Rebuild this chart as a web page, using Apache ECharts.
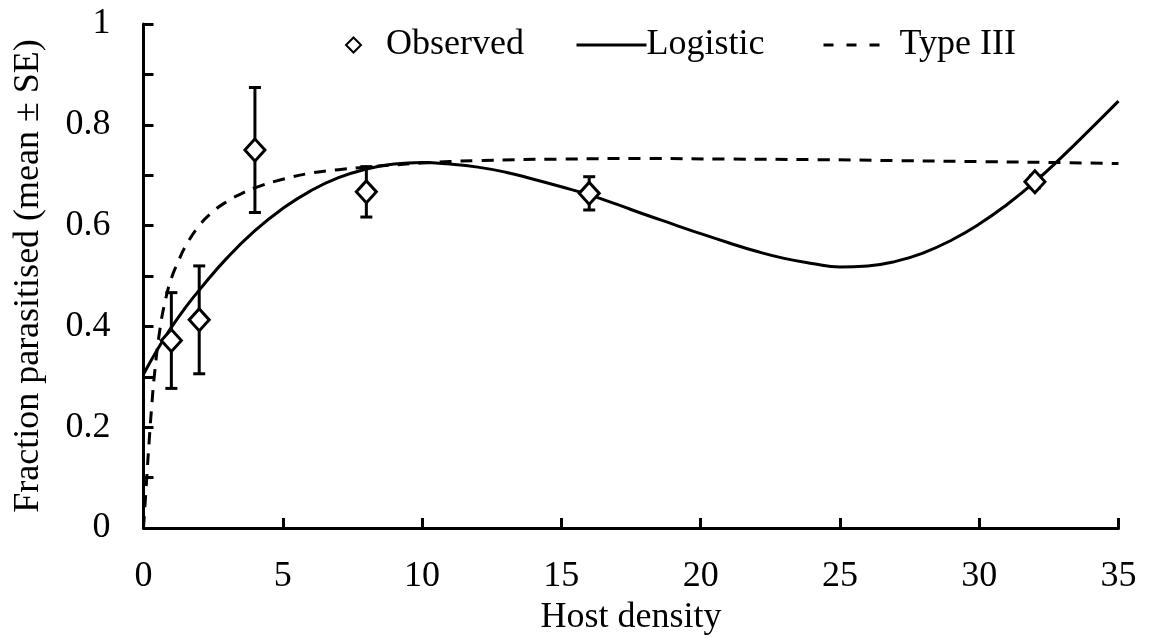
<!DOCTYPE html>
<html>
<head>
<meta charset="utf-8">
<script src="https://cdn.jsdelivr.net/npm/echarts@6/dist/echarts.min.js"></script>
<style>
  html, body { margin: 0; padding: 0; background: #fff; }
  #chart { width: 1155px; height: 644px; }
</style>
</head>
<body>
<div id="chart"></div>
<script>
// Observed parasitism by host density (mean and standard error)
const hostDensity = [1, 2, 4, 8, 16, 32];
const meanParasitised = [0.372, 0.413, 0.750, 0.667, 0.664, 0.687];
const standardError = [0.095, 0.107, 0.124, 0.050, 0.033, 0.012];

// Fitted logistic response curve
const logisticX = [0, 0.5, 1, 1.5, 2, 3, 4, 5, 6, 7, 8, 9, 10, 11, 12, 13, 14, 15, 16, 17, 18,
  19, 20, 21, 22, 23, 24, 25, 26, 27, 28, 29, 30, 31, 32, 33, 34, 35];
const logisticY = [0.305, 0.354, 0.398, 0.437, 0.472, 0.536, 0.590, 0.634, 0.669, 0.695, 0.712,
  0.722, 0.725, 0.722, 0.716, 0.706, 0.692, 0.677, 0.661, 0.642, 0.622, 0.603, 0.584, 0.566,
  0.549, 0.535, 0.525, 0.518, 0.520, 0.529, 0.546, 0.571, 0.603, 0.642, 0.687, 0.738, 0.792, 0.847];

// Fitted type III functional response
const typeIIIX = [0, 0.1, 0.2, 0.3, 0.4, 0.6, 0.8, 1, 1.25, 1.5, 2, 2.5, 3, 3.5, 4, 5, 6, 7, 8,
  10, 12, 15, 18, 21, 24, 27, 30, 33, 35];
const typeIIIY = [0, 0.085, 0.17, 0.245, 0.308, 0.398, 0.455, 0.495, 0.529, 0.558, 0.600, 0.628,
  0.648, 0.663, 0.675, 0.692, 0.704, 0.711, 0.716, 0.724, 0.729, 0.732, 0.733, 0.732, 0.731,
  0.729, 0.727, 0.725, 0.723];

const FONT = 'Liberation Serif';
const INK = '#000';
const FS = 36;

const observed = hostDensity.map((x, i) => [x, meanParasitised[i]]);
const errorBars = hostDensity.map((x, i) => [x, meanParasitised[i] - standardError[i], meanParasitised[i] + standardError[i]]);
const logistic = logisticX.map((x, i) => [x, logisticY[i]]);
const typeIII = typeIIIX.map((x, i) => [x, typeIIIY[i]]);

const chart = echarts.init(document.getElementById('chart'), null, { renderer: 'canvas' });

const legendText = { fontFamily: FONT, fontSize: FS, color: INK };
// line legends show only the stroke, without a marker dot
const hiddenDot = { opacity: 0 };

chart.setOption({
  animation: false,
  backgroundColor: '#fff',
  grid: { left: 143.5, right: 36.5, top: 24, bottom: 116, containLabel: false },
  legend: [
    { data: ['Observed'], left: 340, top: 22, icon: 'diamond', itemWidth: 15, itemHeight: 15,
      itemGap: 0, textStyle: Object.assign({ padding: [0, 0, 0, 20] }, legendText) },
    { data: ['Logistic'], left: 570, top: 22, itemWidth: 70, itemHeight: 14,
      itemStyle: hiddenDot, lineStyle: { width: 3 },
      textStyle: Object.assign({ padding: [0, 0, 0, -5] }, legendText) },
    { data: ['Type III'], left: 817, top: 22, itemWidth: 56, itemHeight: 14,
      itemStyle: hiddenDot, lineStyle: { width: 3, type: [10, 13] },
      textStyle: Object.assign({ padding: [0, 0, 0, 15] }, legendText) }
  ],
  xAxis: {
    type: 'value', min: 0, max: 35, interval: 5,
    name: 'Host density', nameLocation: 'middle', nameGap: 71,
    nameTextStyle: { fontFamily: FONT, fontSize: FS, color: INK },
    axisLine: { show: true, onZero: false, lineStyle: { color: INK, width: 3 } },
    axisTick: { show: true, inside: true, length: 10, lineStyle: { color: INK, width: 3 } },
    axisLabel: { fontFamily: FONT, fontSize: FS, color: INK, margin: 31 },
    splitLine: { show: false }
  },
  yAxis: {
    type: 'value', min: 0, max: 1, interval: 0.1,
    name: 'Fraction parasitised (mean ± SE)', nameLocation: 'middle', nameGap: 97,
    nameTextStyle: { fontFamily: FONT, fontSize: FS, color: INK },
    axisLine: { show: true, onZero: false, lineStyle: { color: INK, width: 3 } },
    axisTick: { show: true, inside: true, length: 10, lineStyle: { color: INK, width: 3 } },
    axisLabel: {
      fontFamily: FONT, fontSize: FS, color: INK, margin: 33,
      formatter: v => (Math.round(v * 10) % 2 === 0 ? String(Math.round(v * 10) / 10) : '')
    },
    splitLine: { show: false }
  },
  series: [
    {
      name: 'Type III', type: 'line', data: typeIII, symbol: 'none',
      smooth: 0.5, z: 2,
      lineStyle: { color: INK, width: 3, type: [12, 9] },
      itemStyle: { color: INK }
    },
    {
      name: 'Logistic', type: 'line', data: logistic, symbol: 'none',
      smooth: 0.5, z: 3,
      lineStyle: { color: INK, width: 3, type: 'solid' },
      itemStyle: { color: INK }
    },
    {
      name: 'SE', type: 'custom', data: errorBars, z: 4,
      renderItem: function (params, api) {
        const x = api.value(0);
        const lo = api.coord([x, api.value(1)]);
        const hi = api.coord([x, api.value(2)]);
        const cap = 6;
        const style = { stroke: INK, lineWidth: 3, fill: null };
        return {
          type: 'group',
          children: [
            { type: 'line', shape: { x1: lo[0], y1: lo[1], x2: hi[0], y2: hi[1] }, style: style },
            { type: 'line', shape: { x1: lo[0] - cap, y1: lo[1], x2: lo[0] + cap, y2: lo[1] }, style: style },
            { type: 'line', shape: { x1: hi[0] - cap, y1: hi[1], x2: hi[0] + cap, y2: hi[1] }, style: style }
          ]
        };
      }
    },
    {
      name: 'Observed', type: 'scatter', data: observed, symbol: 'diamond',
      symbolSize: [20, 22], z: 5,
      itemStyle: { color: '#fff', borderColor: INK, borderWidth: 3, opacity: 1 }
    }
  ]
});
</script>
</body>
</html>
